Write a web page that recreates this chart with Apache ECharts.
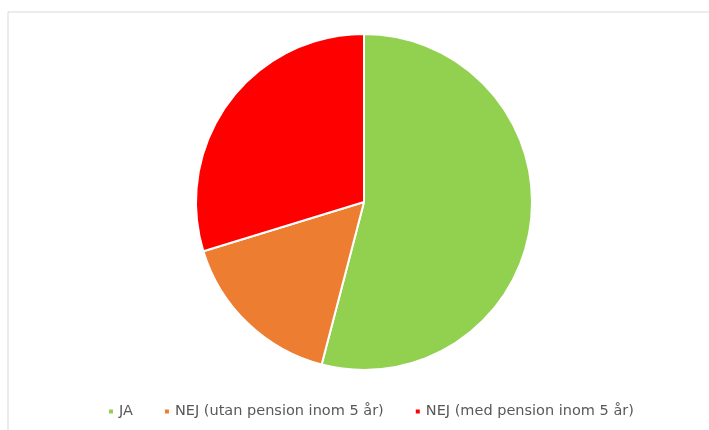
<!DOCTYPE html>
<html>
<head>
<meta charset="utf-8">
<script src="https://cdn.jsdelivr.net/npm/echarts@6/dist/echarts.min.js"></script>
<style>
  html, body { margin: 0; padding: 0; background: #fff; }
  #chart { width: 709px; height: 430px; }
</style>
</head>
<body>
<div id="chart"></div>
<script>
// answer categories and counts
const categories = ['JA', 'NEJ (utan pension inom 5 år)', 'NEJ (med pension inom 5 år)'];
const counts = [20, 6, 11];
const colors = ['#92D050', '#ED7D31', '#FF0000'];

const chart = echarts.init(document.getElementById('chart'));

const options = {
    animation: false,
    color: colors,
    graphic: [{
        type: 'rect',
        shape: { x: 8, y: 12, width: 720, height: 440 },
        style: { fill: 'none', stroke: '#D9D9D9', lineWidth: 1 },
        silent: true
    }],
    legend: {
        top: 399,
        left: 102,
        icon: 'rect',
        itemWidth: 6,
        itemHeight: 6,
        itemGap: 30,
        textStyle: {
            color: '#595959',
            fontSize: 14.5,
            fontFamily: 'DejaVu Sans'
        },
        data: categories
    },
    series: [{
        type: 'pie',
        center: [364, 202],
        radius: 168,
        startAngle: 90,
        clockwise: true,
        label: { show: false },
        labelLine: { show: false },
        itemStyle: { borderColor: '#fff', borderWidth: 2 },
        emphasis: { disabled: true },
        data: categories.map(function (name, i) {
            return { name: name, value: counts[i] };
        })
    }]
};

chart.setOption(options);
</script>
</body>
</html>
